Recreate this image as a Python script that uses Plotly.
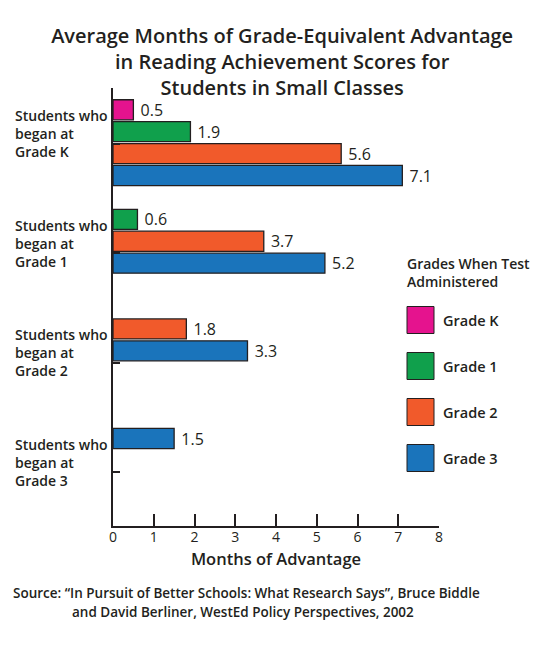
import plotly.graph_objects as go

# groups on the y axis (grade when students began small classes)
start_groups = ['Grade K', 'Grade 1', 'Grade 2', 'Grade 3']
group_labels = ['Students who<br>began at<br>Grade K', 'Students who<br>began at<br>Grade 1',
                'Students who<br>began at<br>Grade 2', 'Students who<br>began at<br>Grade 3']

# series: grade when the test was administered
test_grades = ['Grade K', 'Grade 1', 'Grade 2', 'Grade 3']
grade_k = [0.5, None, None, None]
grade_1 = [1.9, 0.6, None, None]
grade_2 = [5.6, 3.7, 1.8, None]
grade_3 = [7.1, 5.2, 3.3, 1.5]
series = [grade_k, grade_1, grade_2, grade_3]

colors = ['#e5138e', '#10a04c', '#f15a2b', '#1a74bb']
ink = '#231f20'
font_name = 'Open Sans'

W, H = 550, 645
L, R, T, B = 113, 111, 88, 119


def px_x(p):
    return (p - L) / (W - L - R)


def px_y(p):
    return (H - B - p) / (H - T - B)


fig = go.Figure()

for t, (name, vals) in enumerate(zip(test_grades, series)):
    # bars fill each group from the top: slot = test grade - start grade
    offsets = [-0.4 + 0.2 * (t - g) for g in range(len(start_groups))]
    fig.add_trace(go.Bar(
        y=start_groups, x=vals, name=name, orientation='h',
        offset=offsets, width=0.183,
        marker=dict(color=colors[t], line=dict(color=ink, width=1.3)),
        texttemplate=' %{x:.1f}', textposition='outside', constraintext='none',
        textfont=dict(size=16, color=ink, family=font_name, weight=500),
        cliponaxis=False,
    ))

# group labels, left aligned
for g, lab in zip(start_groups, group_labels):
    fig.add_annotation(x=px_x(13), xref='paper', y=g, yref='y', yshift=10,
                       text=lab, showarrow=False, xanchor='left', yanchor='middle',
                       align='left',
                       font=dict(size=14, color=ink, family=font_name, weight=600))

# hand drawn legend with big swatches
fig.add_annotation(x=px_x(405), xref='paper', y=px_y(272), yref='paper',
                   text='Grades When Test<br>Administered', showarrow=False,
                   xanchor='left', yanchor='middle', align='left',
                   font=dict(size=14, color=ink, family=font_name, weight=600))
for i, (name, c) in enumerate(zip(test_grades, colors)):
    cy = 320 + 46 * i
    fig.add_shape(type='rect', xref='paper', yref='paper',
                  x0=px_x(407), x1=px_x(434), y0=px_y(cy - 13.5), y1=px_y(cy + 13.5),
                  fillcolor=c, line=dict(color=ink, width=1))
    fig.add_annotation(x=px_x(441), xref='paper', y=px_y(cy), yref='paper',
                       text=name, showarrow=False, xanchor='left', yanchor='middle',
                       font=dict(size=14.5, color=ink, family=font_name, weight=600))

# source note
fig.add_annotation(x=px_x(11), xref='paper', y=px_y(593), yref='paper',
                   text='Source: \u201cIn Pursuit of Better Schools: What Research Says\u201d, Bruce Biddle',
                   showarrow=False, xanchor='left', yanchor='middle',
                   font=dict(size=13.5, color=ink, family=font_name, weight=600))
fig.add_annotation(x=px_x(70), xref='paper', y=px_y(612), yref='paper',
                   text='and David Berliner, WestEd Policy Perspectives, 2002',
                   showarrow=False, xanchor='left', yanchor='middle',
                   font=dict(size=13.5, color=ink, family=font_name, weight=600))

fig.update_layout(
    width=W, height=H,
    margin=dict(l=L, r=R, t=T, b=B),
    paper_bgcolor='white', plot_bgcolor='white',
    barmode='overlay', showlegend=False,
    font=dict(family=font_name, color=ink),
    title=dict(text='Average Months of Grade-Equivalent Advantage<br>in Reading Achievement Scores for<br>Students in Small Classes',
               x=0.513, xanchor='center', y=1 - 43 / H, yanchor='top',
               font=dict(size=20, color=ink, family=font_name, weight=600)),
    xaxis=dict(range=[0, 8], dtick=1, showgrid=False, zeroline=False,
               showline=True, linecolor=ink, linewidth=2,
               ticks='inside', ticklen=12, tickwidth=2, tickcolor=ink,
               tickfont=dict(size=14, color=ink), ticklabelstandoff=-3,
               title=dict(text='Months of Advantage', standoff=9,
                          font=dict(size=16.5, color=ink, family=font_name, weight=600))),
    yaxis=dict(type='category', categoryorder='array', categoryarray=start_groups,
               range=[3.49, -0.507], showgrid=False, zeroline=False,
               showline=True, linecolor=ink, linewidth=2,
               ticks='inside', ticklen=7, tickwidth=2, tickcolor=ink,
               showticklabels=False),
)

# page has a default 8px body margin; drop it so the figure sits at 0,0
fig.write_html('out.html', config={'displayModeBar': False},
               post_script="document.body.style.margin='0';")
